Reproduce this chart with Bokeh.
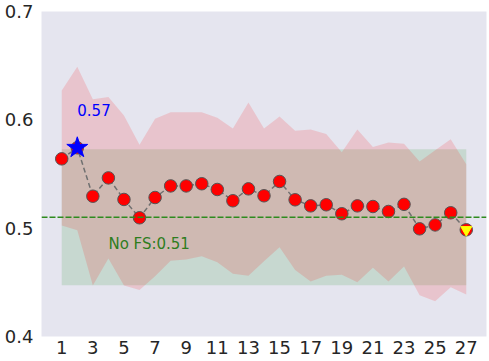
from bokeh.plotting import figure
from bokeh.models import ColumnDataSource, Span, FixedTicker, Range1d
from bokeh.core.properties import value
from bokeh.embed import file_html
from bokeh.resources import INLINE

# ---- data ----
n_features = list(range(1, 28))
scores = [0.564, 0.5742, 0.5295, 0.5464, 0.5265, 0.5096, 0.5283, 0.539, 0.539,
          0.541, 0.5357, 0.5253, 0.5363, 0.5299, 0.5431, 0.5262, 0.5206, 0.5216,
          0.5133, 0.5206, 0.520, 0.5154, 0.522, 0.4994, 0.503, 0.5142, 0.4985]
upper = [0.627, 0.649, 0.619, 0.621, 0.604, 0.577, 0.601, 0.607, 0.607, 0.607,
         0.602, 0.592, 0.616, 0.592, 0.603, 0.590, 0.591, 0.587, 0.570, 0.591,
         0.575, 0.579, 0.578, 0.5615, 0.572, 0.582, 0.559]
lower = [0.5025, 0.498, 0.447, 0.472, 0.447, 0.443, 0.4557, 0.470, 0.471, 0.474,
         0.4686, 0.458, 0.456, 0.4695, 0.4825, 0.4615, 0.4508, 0.456, 0.457, 0.450,
         0.4634, 0.4508, 0.4646, 0.438, 0.4326, 0.4455, 0.4388]
nofs_score = 0.5101
nofs_std = 0.0627
x_ticks = list(range(1, 28, 2))
y_ticks = [0.4, 0.5, 0.6, 0.7]

best_i = max(range(len(scores)), key=lambda i: scores[i])
last_i = len(scores) - 1

p = figure(width=489, height=361, output_backend="svg", toolbar_location=None,
           x_range=Range1d(-0.3, 28.3), y_range=Range1d(0.4, 0.7),
           min_border_left=41, min_border_right=3, min_border_top=11, min_border_bottom=25)
p.background_fill_color = "#E5E5EF"
p.border_fill_color = "white"
p.outline_line_color = None
p.xgrid.grid_line_color = None
p.ygrid.grid_line_color = None

src = ColumnDataSource(dict(x=n_features, y=scores, lo=lower, hi=upper,
                            nlo=[nofs_score - nofs_std] * len(n_features),
                            nhi=[nofs_score + nofs_std] * len(n_features)))

p.varea(x="x", y1="nlo", y2="nhi", source=src, fill_color="green", fill_alpha=0.13)
p.varea(x="x", y1="lo", y2="hi", source=src, fill_color="red", fill_alpha=0.14)

p.add_layout(Span(location=nofs_score, dimension="width", line_color="#2E8B1E",
                  line_width=1.6, line_dash="6 2"))

p.line(x="x", y="y", source=src, line_color="#707070", line_width=1.5, line_dash="5 3")
p.scatter(x="x", y="y", source=src, size=12.5, fill_color="red",
          line_color="#555555", line_width=1)
p.scatter(x=[n_features[best_i]], y=[scores[best_i]], marker="star", size=22,
          fill_color="blue", line_color="blue")
p.scatter(x=[n_features[last_i]], y=[scores[last_i]], marker="inverted_triangle",
          size=11, fill_color="yellow", line_color="yellow")

p.text(x=[n_features[best_i]], y=[scores[best_i] + 0.035],
       text=[f"{scores[best_i]:.2f}"], text_color="blue", text_font_size="15px",
       text_font=value("DejaVu Sans"), text_baseline="alphabetic", text_align="left")
p.text(x=[4], y=[nofs_score - 0.025], text=[f"No FS:{nofs_score:.2f}"],
       text_color="#2E7D1E", text_font_size="15px", text_font=value("DejaVu Sans"),
       text_baseline="alphabetic", text_align="left")

for ax in (p.xaxis, p.yaxis):
    ax.axis_line_color = None
    ax.major_tick_line_color = None
    ax.minor_tick_line_color = None
    ax.major_tick_in = 0
    ax.major_tick_out = 0
    ax.major_label_text_font = "DejaVu Sans"
    ax.major_label_text_font_size = "18px"
    ax.major_label_text_color = "#262626"

p.xaxis.ticker = FixedTicker(ticks=x_ticks)
p.yaxis.ticker = FixedTicker(ticks=y_ticks)
p.xaxis.major_label_standoff = 4
p.yaxis.major_label_standoff = 8
p.yaxis.major_label_overrides = {0.4: "0.4", 0.5: "0.5", 0.6: "0.6", 0.7: "0.7"}

open("out.html", "w").write(file_html(p, INLINE))
